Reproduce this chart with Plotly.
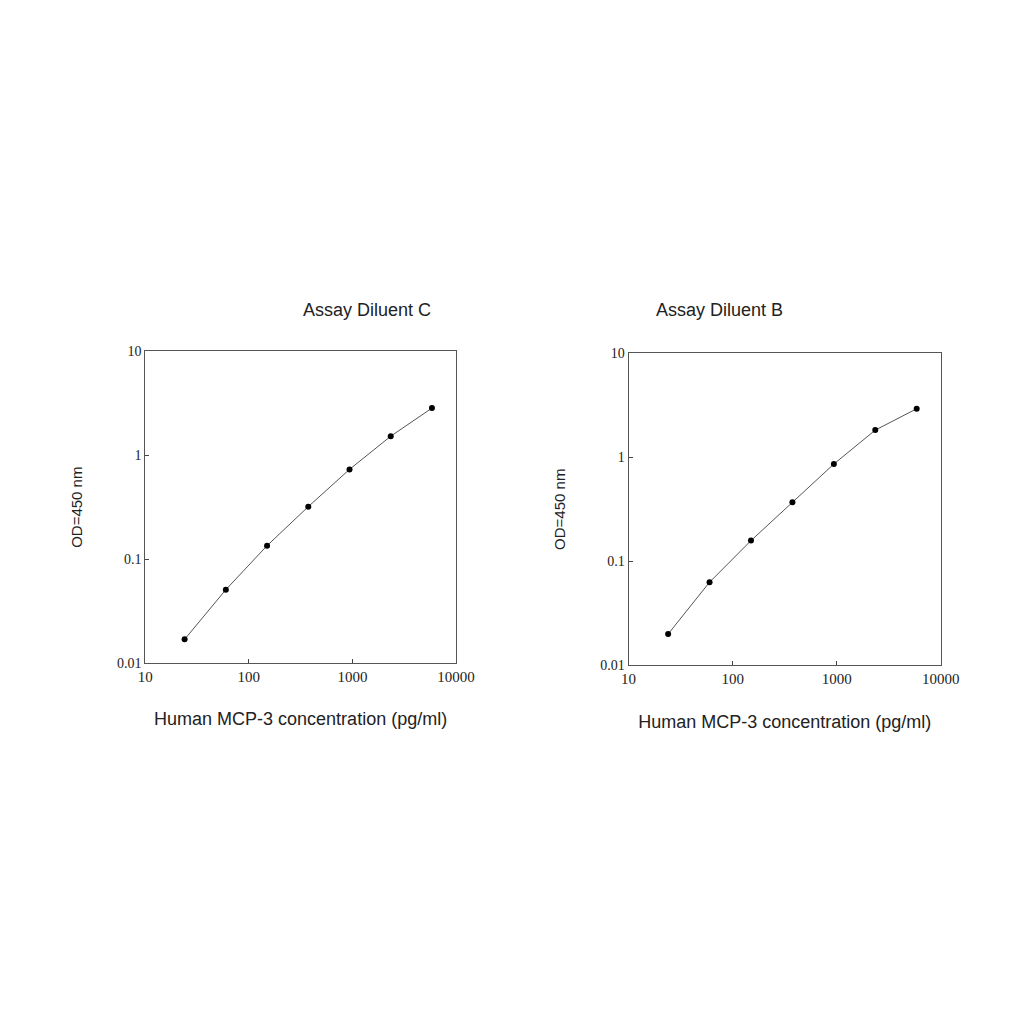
import plotly.graph_objects as go

conc = [24, 60, 150, 375, 938, 2344, 5859]
od_c = [0.017, 0.051, 0.135, 0.32, 0.73, 1.52, 2.83]
od_b = [0.020, 0.063, 0.158, 0.37, 0.86, 1.82, 2.92]
titles = ["Assay Diluent C", "Assay Diluent B"]
x_title = "Human MCP-3 concentration (pg/ml)"
y_title = "OD=450 nm"
tick_x = [10, 100, 1000, 10000]
tick_y = [0.01, 0.1, 1, 10]

fig = go.Figure()
domains_x = [[0.134, 0.4375], [0.606, 0.911]]
domains_y = [[0.360, 0.665], [0.358, 0.663]]
for i, od in enumerate([od_c, od_b]):
    n = "" if i == 0 else "2"
    fig.add_trace(go.Scatter(
        x=conc, y=od, mode="lines+markers", xaxis="x" + n, yaxis="y" + n,
        line=dict(color="#555555", width=1),
        marker=dict(color="black", size=6), showlegend=False))
    ax = dict(type="log", domain=domains_x[i], range=[1, 4], tickvals=tick_x,
              ticktext=[str(v) for v in tick_x], showgrid=False, mirror=True,
              showline=True, linecolor="#555555", linewidth=1, ticks="inside",
              ticklen=4, tickfont=dict(family="Liberation Serif", size=15, color="#222"),
              title=dict(text=x_title, font=dict(family="Liberation Sans", size=18, color="#222"),
                         standoff=28),
              anchor="y" + n, zeroline=False, automargin=False)
    ay = dict(type="log", domain=domains_y[i], range=[-2, 1], tickvals=tick_y,
              ticktext=["0.01", "0.1", "1", "10"], showgrid=False, mirror=True,
              showline=True, linecolor="#555555", linewidth=1, ticks="inside",
              ticklen=4, tickfont=dict(family="Liberation Serif", size=14, color="#222"),
              title=dict(text=y_title, font=dict(family="Liberation Sans", size=15, color="#222"),
                         standoff=30),
              anchor="x" + n, zeroline=False, automargin=False)
    fig.update_layout(**{"xaxis" + n: ax, "yaxis" + n: ay})
    fig.add_annotation(text=titles[i], xref="paper", yref="paper",
                       x=sum(domains_x[i]) / 2, y=0.717, showarrow=False,
                       font=dict(family="Liberation Sans", size=18, color="#222"))

fig.update_layout(width=1024, height=1024, margin=dict(l=0, r=0, t=0, b=0),
                  paper_bgcolor="white", plot_bgcolor="white")
fig.write_html("out.html")
